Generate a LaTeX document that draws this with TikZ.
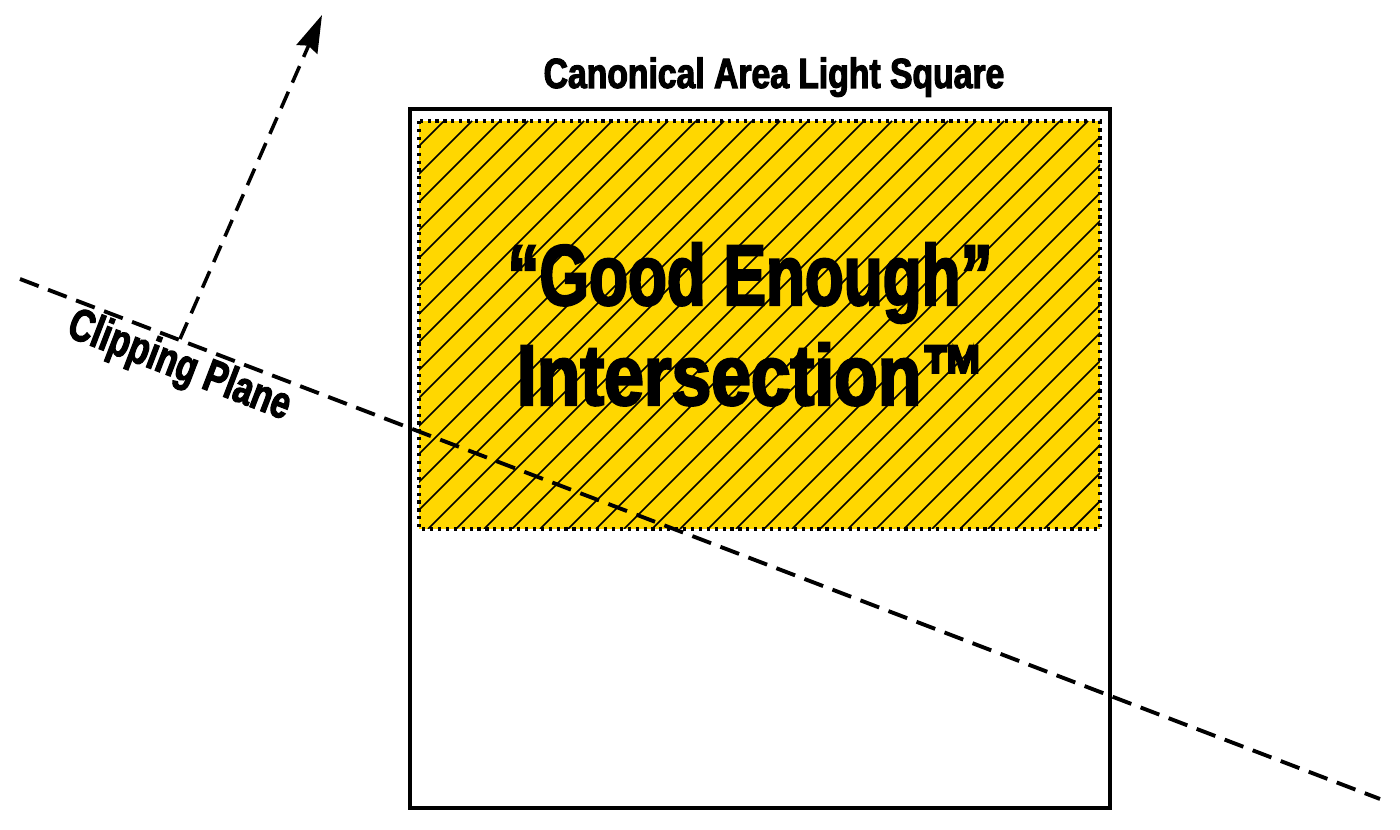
\documentclass[tikz,border=0pt]{standalone}
\usepackage{fontspec}
\usetikzlibrary{arrows.meta}
\newfontfamily\heavyfont[FakeStretch=0.74,FakeBold=2.5]{Liberation Sans}
\definecolor{lightgold}{RGB}{255,215,0}
\tikzstyle{planeline} = [line width=2.2pt, dash pattern=on 0.4cm off 0.2cm]
\tikzstyle{normalarrow} = [line width=2pt, dash pattern=on 0.36cm off 0.2cm, -{Stealth[length=0.75cm,width=0.45cm,inset=0.08cm]}]
\tikzstyle{boxline} = [line width=1.9pt]
\tikzstyle{dotline} = [line width=1.8pt, dash pattern=on 1.8pt off 2.7pt]
\tikzstyle{hatch} = [line width=1pt]
\tikzstyle{bigtext} = [font=\heavyfont\bfseries\fontsize{49}{49}\selectfont, inner sep=0pt, anchor=base]

\begin{document}
\begin{tikzpicture}[x=0.02cm, y=-0.02cm]
    \useasboundingbox (0,0) rectangle (1400,830);

    % intersection region
    \fill[lightgold] (419,121) rectangle (1100,529);
    \begin{scope}
        \clip (419,121) rectangle (1100,529);
        \foreach \k in {-1,...,38}
            \draw[hatch] ({565+28*\k-529},529) -- ({565+28*\k-121},121);
    \end{scope}
    \draw[dotline] (419,121) rectangle (1100,529);

    % light square
    \draw[boxline] (410,109) rectangle (1110,808);
    \node[inner sep=0pt, anchor=base, font=\heavyfont\bfseries\fontsize{24}{24}\selectfont] (title) at (774,88) {\scalebox{1.08}[1]{Canonical Area Light Square}};

    \node[bigtext] (good) at (750,305) {“Good Enough”};
    \node[bigtext] (inter) at (751,405) {\scalebox{1.12}[1]{Intersection}™};

    % clipping plane
    \coordinate (planeA) at (20,279);
    \coordinate (planeB) at (1380,799);
    \coordinate (normalbase) at (180,339);
    \coordinate (normaltip) at (322,15);
    \draw[planeline] (planeA) -- (planeB);
    \draw[normalarrow] (normalbase) -- (normaltip);
    \node[rotate=-21, inner sep=0pt, font=\heavyfont\bfseries\fontsize{26}{26}\selectfont] (planelabel) at (179,367) {Clipping Plane};
\end{tikzpicture}
\end{document}
